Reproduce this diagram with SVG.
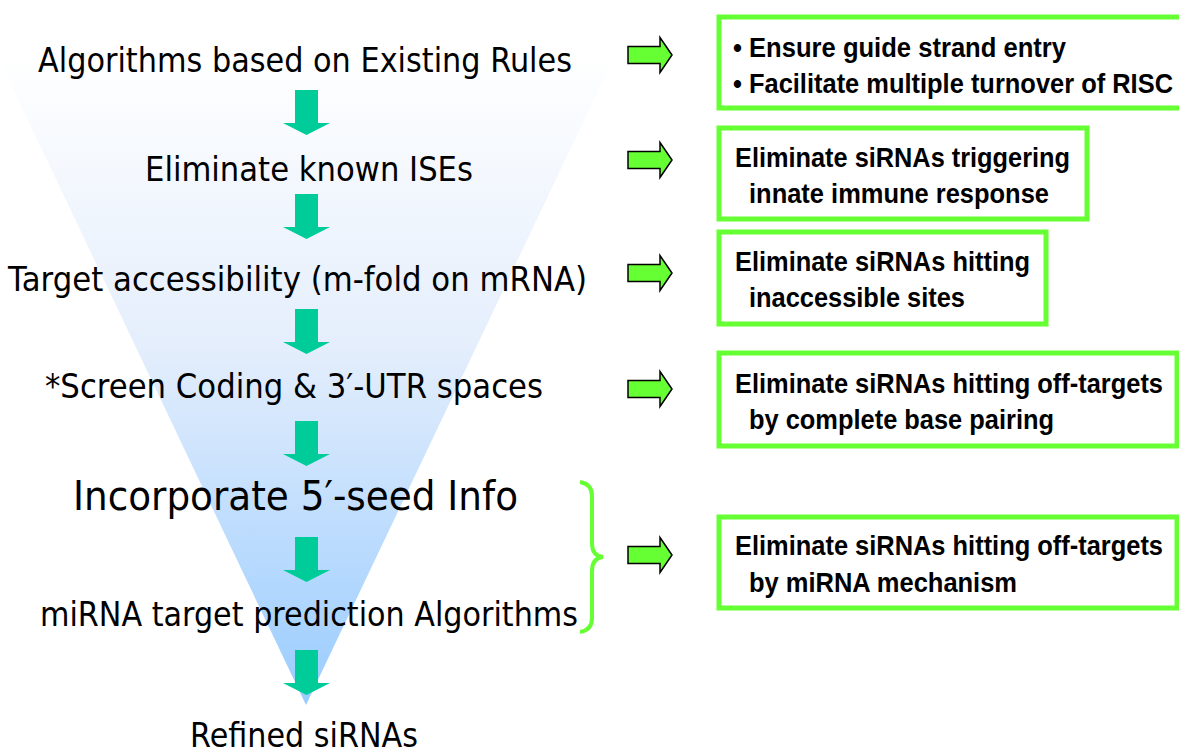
<svg xmlns="http://www.w3.org/2000/svg" width="1179" height="749" viewBox="0 0 1179 749">
<defs>
<linearGradient id="fun" gradientUnits="userSpaceOnUse" x1="0" y1="53" x2="0" y2="705">
<stop offset="0" stop-color="#ffffff"/>
<stop offset="0.45" stop-color="#e4eefc"/>
<stop offset="1" stop-color="#99ccff"/>
</linearGradient>
<path id="down" d="M-11.5,0 H11.5 V33 H23.5 L0,45 L-23.5,33 H-11.5 Z"/>
<path id="right" d="M0,-8.5 H32 V-17.5 L44,0 L32,17.5 V8.5 H0 Z"/>
</defs>
<style>
.lt{font-family:"DejaVu Sans","Liberation Sans",sans-serif;font-size:34px;fill:#000}
.rt{font-family:"Liberation Sans",Arial,sans-serif;font-weight:bold;font-size:28px;fill:#000}
.box{fill:#fff;stroke:#66ff33;stroke-width:5}
.da{fill:#00cc99}
.ra{fill:#66ff33;stroke:#000;stroke-width:1.5;stroke-linejoin:miter}
</style>
<rect width="1179" height="749" fill="#fff"/>
<polygon id="funnel" points="-4,53 616,53 306,705" fill="url(#fun)"/>

<g id="connectors">
<use href="#down" class="da" x="306.5" y="90"/>
<use href="#down" class="da" x="306.5" y="194"/>
<use href="#down" class="da" x="306.5" y="309"/>
<use href="#down" class="da" x="306.5" y="421"/>
<use href="#down" class="da" x="306.5" y="537"/>
<use href="#down" class="da" x="306.5" y="650"/>
<use href="#right" class="ra" x="628" y="55"/>
<use href="#right" class="ra" x="628" y="160"/>
<use href="#right" class="ra" x="628" y="273"/>
<use href="#right" class="ra" x="628" y="389"/>
<use href="#right" class="ra" x="628" y="555"/>
<path id="brace" d="M580,482 Q592,484 592,496 V543 Q592,556 603,557 Q592,558 592,571 V618 Q592,630 580,632" fill="none" stroke="#66ff33" stroke-width="4"/>
</g>

<g id="step1"><text class="lt" x="38" y="72" textLength="534" lengthAdjust="spacingAndGlyphs">Algorithms based on Existing Rules</text></g>
<g id="step2"><text class="lt" x="145" y="181" textLength="328" lengthAdjust="spacingAndGlyphs">Eliminate known ISEs</text></g>
<g id="step3"><text class="lt" x="8" y="291" textLength="579" lengthAdjust="spacingAndGlyphs">Target accessibility (m-fold on mRNA)</text></g>
<g id="step4"><text class="lt" x="45" y="398" textLength="498" lengthAdjust="spacingAndGlyphs">*Screen Coding &amp; 3′-UTR spaces</text></g>
<g id="step5"><text class="lt" x="73" y="510" style="font-size:41px" textLength="445" lengthAdjust="spacingAndGlyphs">Incorporate 5′-seed Info</text></g>
<g id="step6"><text class="lt" x="40" y="626" textLength="538" lengthAdjust="spacingAndGlyphs">miRNA target prediction Algorithms</text></g>
<g id="step7"><text class="lt" x="190" y="747" textLength="228" lengthAdjust="spacingAndGlyphs">Refined siRNAs</text></g>

<g id="box1">
<rect class="box" x="719" y="17" width="470" height="91"/>
<text class="rt" x="733" y="57" textLength="333" lengthAdjust="spacingAndGlyphs">• Ensure guide strand entry</text>
<text class="rt" x="733" y="93" textLength="440" lengthAdjust="spacingAndGlyphs">• Facilitate multiple turnover of RISC</text>
</g>
<g id="box2">
<rect class="box" x="719" y="128" width="368" height="91"/>
<text class="rt" x="735" y="167" textLength="335" lengthAdjust="spacingAndGlyphs">Eliminate siRNAs triggering</text>
<text class="rt" x="749" y="203" textLength="300" lengthAdjust="spacingAndGlyphs">innate immune response</text>
</g>
<g id="box3">
<rect class="box" x="719" y="232" width="327" height="92"/>
<text class="rt" x="735" y="271" textLength="295" lengthAdjust="spacingAndGlyphs">Eliminate siRNAs hitting</text>
<text class="rt" x="749" y="307" textLength="216" lengthAdjust="spacingAndGlyphs">inaccessible sites</text>
</g>
<g id="box4">
<rect class="box" x="719" y="353" width="458" height="93"/>
<text class="rt" x="735" y="393" textLength="428" lengthAdjust="spacingAndGlyphs">Eliminate siRNAs hitting off-targets</text>
<text class="rt" x="749" y="429" textLength="305" lengthAdjust="spacingAndGlyphs">by complete base pairing</text>
</g>
<g id="box5">
<rect class="box" x="719" y="517" width="458" height="91"/>
<text class="rt" x="735" y="555" textLength="428" lengthAdjust="spacingAndGlyphs">Eliminate siRNAs hitting off-targets</text>
<text class="rt" x="749" y="592" textLength="268" lengthAdjust="spacingAndGlyphs">by miRNA mechanism</text>
</g>
</svg>
